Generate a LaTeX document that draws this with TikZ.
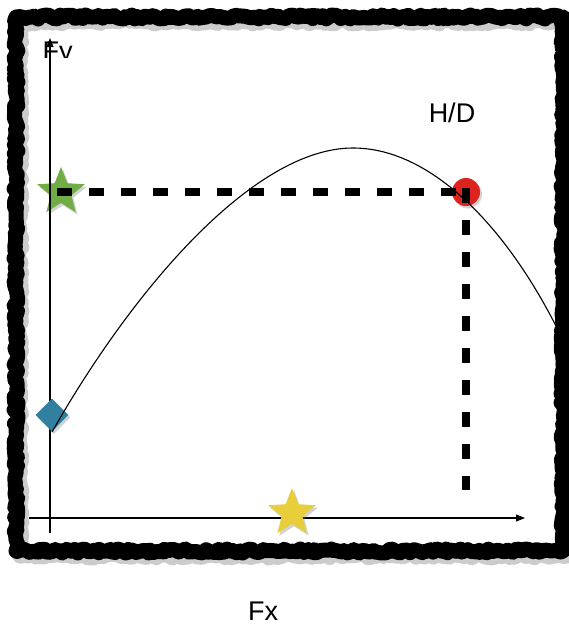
\documentclass[tikz,border=0pt]{standalone}
\usepackage{fontspec}
\setmainfont{Liberation Sans}
\usepackage{xcolor}
\usetikzlibrary{arrows.meta, shapes.geometric, decorations.pathmorphing, shadows}

\definecolor{leafgreen}{RGB}{112,173,71}
\definecolor{dotred}{RGB}{222,34,28}
\definecolor{diablue}{RGB}{50,128,160}
\definecolor{goldstar}{RGB}{232,206,58}

\begin{document}
\begin{tikzpicture}[x=1pt, y=-1pt, line width=1.1pt,
    lbl/.style={font=\fontsize{27}{30}\selectfont},
    dashline/.style={line width=8pt, dash pattern=on 15pt off 17pt},
    softshadow/.style={drop shadow={opacity=0.35, shadow xshift=2pt, shadow yshift=-2.5pt}},
    fivestar/.style={star, star points=5, star point ratio=2.3, minimum size=50pt, inner sep=0pt, softshadow}]
    \useasboundingbox (0,0) rectangle (569,625);

    % Rahmen
    \draw[gray!40, line width=15pt, line join=round, decorate,
          decoration={random steps, segment length=3pt, amplitude=2pt}] (20,22) rectangle (567,556);
    \draw[black, line width=15pt, line join=round, decorate,
          decoration={random steps, segment length=3pt, amplitude=2pt}] (16,17) rectangle (563,551);

    % Punkte unter den Linien
    \node[fivestar, fill=leafgreen] (fyStar) at (61,192) {};
    \node[circle, fill=dotred, minimum size=28pt, inner sep=0pt, softshadow] (hd) at (466,192) {};

    % Achsen
    \coordinate (origin) at (50,533);
    \coordinate (yTop) at (50,38);
    \coordinate (xLeft) at (29,518);
    \coordinate (xRight) at (525,518);
    \draw[-{Triangle[length=9pt, width=7pt]}] (origin) -- (yTop);
    \draw[-{Triangle[length=9pt, width=7pt]}] (xLeft) -- (xRight);

    \node[diamond, fill=diablue, minimum size=33pt, inner sep=0pt, softshadow] (dia) at (52,415) {};
    \node[fivestar, fill=goldstar] (fxStar) at (292,513) {};

    % Kurve
    \coordinate (peak) at (353,148);
    \coordinate (curveEnd) at (566,346);
    \draw (dia.south) .. controls (132,291) and (253,148) .. (peak)
        .. controls (433,148) and (508,230) .. (558,330) -- (curveEnd);

    % gestrichelte Linien
    \coordinate (dropEnd) at (466,490);
    \draw[dashline] ([xshift=-4pt]fyStar.center) -- (hd.center);
    \draw[dashline] ([yshift=4pt]hd.center) -- (dropEnd);

    % Beschriftung
    \begin{scope}
        \clip (35,30) rectangle (110,57);
        \node[lbl, anchor=base west, inner sep=0pt] (fyLabel) at (42,60) {Fy};
    \end{scope}
    \node[lbl, anchor=base, inner sep=0pt] (hdLabel) at (452,122) {H/D};
    \node[lbl, anchor=base, inner sep=0pt] (fxLabel) at (263,620) {Fx};
\end{tikzpicture}
\end{document}
